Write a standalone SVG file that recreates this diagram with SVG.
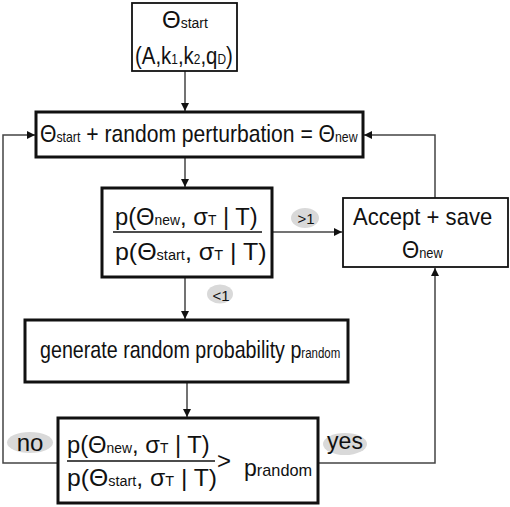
<svg xmlns="http://www.w3.org/2000/svg" width="510" height="507" viewBox="0 0 510 507">
<style>
text{font-family:"Liberation Sans",Arial,sans-serif;fill:#111;}
.t{font-size:24px;}
.s{font-size:14px;}
.box{fill:#fff;stroke:#111;stroke-width:3;}
.thin{fill:#fff;stroke:#111;stroke-width:1.8;}
.c{fill:none;stroke:#444;stroke-width:1.5;}
.pill{fill:#d9d9d9;stroke:none;}
.pn{font-size:15px;}
</style>
<defs>
<marker id="ah" viewBox="0 0 10 10" refX="10" refY="5" markerWidth="8" markerHeight="8" markerUnits="userSpaceOnUse" orient="auto">
<path d="M0,0 L10,5 L0,10 z" fill="#111"/>
</marker>
</defs>
<g id="connectors">
<line class="c" x1="185" y1="71" x2="185" y2="111" marker-end="url(#ah)"/>
<line class="c" x1="185" y1="157" x2="185" y2="187" marker-end="url(#ah)"/>
<line class="c" x1="272" y1="232" x2="342" y2="232" marker-end="url(#ah)"/>
<polyline class="c" points="435,198 435,135 364,135" marker-end="url(#ah)"/>
<line class="c" x1="185" y1="277" x2="185" y2="319" marker-end="url(#ah)"/>
<line class="c" x1="187" y1="382" x2="187" y2="417" marker-end="url(#ah)"/>
<polyline class="c" points="58,463 3,463 3,135 35,135" marker-end="url(#ah)"/>
<polyline class="c" points="318,463 435,463 435,268" marker-end="url(#ah)"/>
</g>
<g id="start">
<rect class="thin" x="132" y="3" width="105" height="68"/>
<text class="t" x="162" y="28">Θ<tspan class="s">start</tspan></text>
<text class="t" transform="translate(135,64) scale(0.85,1)">(A,k<tspan class="s">1</tspan>,k<tspan class="s">2</tspan>,q<tspan class="s">D</tspan>)</text>
</g>
<g id="perturb">
<rect class="box" x="36" y="112" width="327" height="45"/>
<text class="t" transform="translate(40,142) scale(0.88,1)">Θ<tspan class="s">start</tspan> + random perturbation = Θ<tspan class="s">new</tspan></text>
</g>
<g id="ratio">
<rect class="box" x="102" y="188" width="170" height="89"/>
<text class="t" transform="translate(115,225) scale(0.99,1)">p(Θ<tspan class="s">new</tspan>, σ<tspan class="s">T</tspan> | T)</text>
<line x1="113" y1="232" x2="262" y2="232" stroke="#111" stroke-width="1.5"/>
<text class="t" transform="translate(115,260) scale(1.04,1)">p(Θ<tspan class="s">start</tspan>, σ<tspan class="s">T</tspan> | T)</text>
</g>
<g id="gt1">
<ellipse class="pill" cx="305" cy="218" rx="14" ry="10"/>
<text class="pn" x="306" y="224" text-anchor="middle">&gt;1</text>
</g>
<g id="accept">
<rect class="thin" x="343" y="198" width="165" height="69"/>
<text class="t" transform="translate(353,225) scale(0.92,1)">Accept + save</text>
<text class="t" transform="translate(402,258) scale(0.92,1)">Θ<tspan class="s">new</tspan></text>
</g>
<g id="lt1">
<ellipse class="pill" cx="220" cy="294" rx="13" ry="9.5"/>
<text class="pn" x="221" y="301" text-anchor="middle">&lt;1</text>
</g>
<g id="generate">
<rect class="box" x="25" y="320" width="323" height="62"/>
<text class="t" transform="translate(40,358) scale(0.82,1)">generate random probability p<tspan class="s">random</tspan></text>
</g>
<g id="compare">
<rect class="box" x="58" y="418" width="260" height="85"/>
<text class="t" transform="translate(67,453) scale(0.99,1)">p(Θ<tspan class="s">new</tspan>, σ<tspan class="s">T</tspan> | T)</text>
<line x1="67" y1="461" x2="215" y2="461" stroke="#111" stroke-width="1.5"/>
<text class="t" transform="translate(67,486) scale(1.03,1)">p(Θ<tspan class="s">start</tspan>, σ<tspan class="s">T</tspan> | T)</text>
<text class="t" x="217" y="469">&gt;</text>
<text class="t" transform="translate(244,476) scale(0.96,1)">p<tspan font-size="17px">random</tspan></text>
</g>
<g id="no">
<ellipse class="pill" cx="30" cy="442.5" rx="23" ry="10.5"/>
<text x="30" y="451" font-size="24" text-anchor="middle">no</text>
</g>
<g id="yes">
<ellipse class="pill" cx="345" cy="444" rx="22" ry="11"/>
<text x="345" y="449" font-size="23" text-anchor="middle">yes</text>
</g>
</svg>
